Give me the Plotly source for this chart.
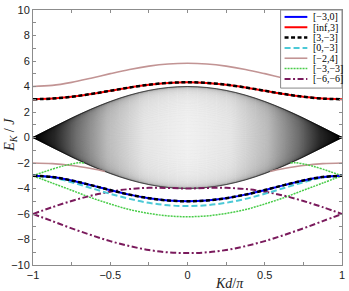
import math
import plotly.graph_objects as go

# ---------------- data ----------------
K = [-1, -0.875, -0.75, -0.625, -0.5, -0.375, -0.25, -0.125, 0,
     0.125, 0.25, 0.375, 0.5, 0.625, 0.75, 0.875, 1]

# two-particle continuum edges
band_upper = [0, 0.780, 1.531, 2.222, 2.828, 3.326, 3.696, 3.923, 4.0,
              3.923, 3.696, 3.326, 2.828, 2.222, 1.531, 0.780, 0]
band_lower = [0, -0.780, -1.531, -2.222, -2.828, -3.326, -3.696, -3.923, -4.0,
              -3.923, -3.696, -3.326, -2.828, -2.222, -1.531, -0.780, 0]

# [-3,0]
e_m3_0 = [-3.0, -3.100, -3.368, -3.733, -4.123, -4.479, -4.760, -4.939, -5.0,
          -4.939, -4.760, -4.479, -4.123, -3.733, -3.368, -3.100, -3.0]
# [inf,3]
e_inf_3 = [3.0, 3.051, 3.195, 3.412, 3.667, 3.922, 4.138, 4.283, 4.333,
           4.283, 4.138, 3.922, 3.667, 3.412, 3.195, 3.051, 3.0]
# [3,-3]  (two branches)
e_3_m3_up = [3.0, 3.051, 3.195, 3.412, 3.667, 3.922, 4.138, 4.283, 4.333,
             4.283, 4.138, 3.922, 3.667, 3.412, 3.195, 3.051, 3.0]
e_3_m3_lo = [-3.0, -3.100, -3.368, -3.733, -4.123, -4.479, -4.760, -4.939, -5.0,
             -4.939, -4.760, -4.479, -4.123, -3.733, -3.368, -3.100, -3.0]
# [0,-3]
e_0_m3 = [-3.0, -3.146, -3.510, -3.964, -4.418, -4.815, -5.122, -5.313, -5.379,
          -5.313, -5.122, -4.815, -4.418, -3.964, -3.510, -3.146, -3.0]
# [-2,4]
e_m2_4_up = [4.0, 4.085, 4.325, 4.653, 5.008, 5.336, 5.596, 5.762, 5.819,
             5.762, 5.596, 5.336, 5.008, 4.653, 4.325, 4.085, 4.0]
K_m2_4_lo = [-1, -0.875, -0.75, -0.625, -0.58, -0.535, None,
             0.535, 0.58, 0.625, 0.75, 0.875, 1]
e_m2_4_lo = [-2.0, -2.051, -2.199, -2.432, -2.536, -2.667, None,
             -2.667, -2.536, -2.432, -2.199, -2.051, -2.0]
# [-3,-3]
e_m3_m3_lo = [-3.0, -3.574, -4.139, -4.716, -5.214, -5.653, -5.954, -6.150, -6.213,
              -6.150, -5.954, -5.653, -5.214, -4.716, -4.139, -3.574, -3.0]
K_m3_m3_up = [-1, -0.875, -0.8, -0.75, -0.7, -0.667, None,
              0.667, 0.7, 0.75, 0.8, 0.875, 1]
e_m3_m3_up = [-3.0, -2.481, -2.217, -2.074, -1.980, -2.0, None,
              -2.0, -1.980, -2.074, -2.217, -2.481, -3.0]
# [-6,-6]
e_m6_m6_up = [-6.0, -5.463, -4.980, -4.567, -4.252, -4.044, -3.949, -3.957, -4.0,
              -3.957, -3.949, -4.044, -4.252, -4.567, -4.980, -5.463, -6.0]
e_m6_m6_lo = [-6.0, -6.559, -7.125, -7.647, -8.128, -8.518, -8.824, -9.008, -9.067,
              -9.008, -8.824, -8.518, -8.128, -7.647, -7.125, -6.559, -6.0]

legend_labels = ["[\u22123,0]", "[inf,3]", "[3,\u22123]", "[0,\u22123]",
                 "[\u22122,4]", "[\u22123,\u22123]", "[\u22126,\u22126]"]

x_tickvals = [-1, -0.5, 0, 0.5, 1]
x_ticktext = ["\u22121", "\u22120.5", "0", "0.5", "1"]
y_tickvals = [-10, -8, -6, -4, -2, 0, 2, 4, 6, 8, 10]
y_ticktext = ["\u221210", "\u22128", "\u22126", "\u22124", "\u22122", "0",
              "2", "4", "6", "8", "10"]

# ---------------- styles ----------------
C_BLUE = "#0000ff"
C_RED = "#ff0000"
C_BLACK = "#000000"
C_CYAN = "#4cc9d6"
C_BROWN = "#c29494"
C_GREEN = "#48cc48"
C_PURPLE = "#7a1a5c"

styles = [
    dict(color=C_BLUE, width=2, dash="solid"),
    dict(color=C_RED, width=2, dash="solid"),
    dict(color=C_BLACK, width=2.5, dash="4px,2.5px"),
    dict(color=C_CYAN, width=2, dash="6px,3px"),
    dict(color=C_BROWN, width=1.6, dash="solid"),
    dict(color=C_GREEN, width=1.5, dash="2px,1px"),
    dict(color=C_PURPLE, width=2, dash="6px,2.5px,2px,2.5px"),
]

fig = go.Figure()

# continuum shading: scaled copies of the band edge
N = 200
for i in range(N):
    f = math.cos(math.pi * (i + 0.5) / N)
    fig.add_trace(go.Scatter(
        x=K, y=[f * u for u in band_upper], mode="lines",
        line=dict(color="rgba(0,0,0,0.05)", width=1, shape="spline"),
        hoverinfo="skip", showlegend=False))

# darkening towards the band tips (horizontal gradient fill between the edges)
fig.add_trace(go.Scatter(x=K, y=band_upper, mode="lines",
                         line=dict(color="rgba(0,0,0,0.55)", width=1, shape="spline"),
                         hoverinfo="skip", showlegend=False))
fig.add_trace(go.Scatter(
    x=K, y=band_lower, mode="lines",
    line=dict(color="rgba(0,0,0,0.55)", width=1, shape="spline"),
    fill="tonexty",
    fillgradient=dict(type="horizontal", colorscale=[
        [0.0, "rgba(0,0,0,0.95)"], [0.07, "rgba(0,0,0,0.8)"],
        [0.14, "rgba(0,0,0,0.5)"], [0.24, "rgba(0,0,0,0.2)"],
        [0.36, "rgba(0,0,0,0.04)"], [0.5, "rgba(0,0,0,0)"],
        [0.64, "rgba(0,0,0,0.04)"], [0.76, "rgba(0,0,0,0.2)"],
        [0.86, "rgba(0,0,0,0.5)"], [0.93, "rgba(0,0,0,0.8)"],
        [1.0, "rgba(0,0,0,0.95)"]]),
    hoverinfo="skip", showlegend=False))


def add_line(x, y, st):
    fig.add_trace(go.Scatter(x=x, y=y, mode="lines",
                             line=dict(color=st["color"], width=st["width"],
                                       dash=st["dash"], shape="spline"),
                             connectgaps=False, showlegend=False))


add_line(K, e_m2_4_up, styles[4])
add_line(K_m2_4_lo, e_m2_4_lo, styles[4])
add_line(K, e_m3_m3_lo, styles[5])
add_line(K_m3_m3_up, e_m3_m3_up, styles[5])
add_line(K, e_m6_m6_up, styles[6])
add_line(K, e_m6_m6_lo, styles[6])
add_line(K, e_0_m3, styles[3])
add_line(K, e_m3_0, styles[0])
add_line(K, e_inf_3, styles[1])
add_line(K, e_3_m3_up, styles[2])
add_line(K, e_3_m3_lo, styles[2])

# ---------------- layout ----------------
L, R, T, B = 33, 4, 7, 26
W, H = 349, 291
PW, PH = W - L - R, H - T - B


def px_x(x):
    return (x - L) / PW


def px_y(y):
    return (H - B - y) / PH


shapes = []
annotations = []
# legend box
shapes.append(dict(type="rect", xref="paper", yref="paper",
                   x0=px_x(283), x1=px_x(345), y0=px_y(86), y1=px_y(7),
                   line=dict(color="#888888", width=1), fillcolor="white", layer="above"))
for i, (lab, st) in enumerate(zip(legend_labels, styles)):
    yc = 14 + 10.45 * i
    shapes.append(dict(type="line", xref="paper", yref="paper",
                       x0=px_x(287), x1=px_x(310), y0=px_y(yc), y1=px_y(yc),
                       line=dict(color=st["color"], width=st["width"], dash=st["dash"]),
                       layer="above"))
    annotations.append(dict(text=lab, xref="paper", yref="paper",
                            x=px_x(314), y=px_y(yc), xanchor="left", yanchor="middle",
                            showarrow=False,
                            font=dict(family="Liberation Serif, Times New Roman, serif",
                                      size=10, color="black")))

annotations.append(dict(text="<i>Kd</i>/<i>\u03c0</i>", xref="paper", yref="paper",
                        x=px_x(231), y=px_y(284), xanchor="center", yanchor="middle",
                        showarrow=False,
                        font=dict(family="Liberation Serif, Times New Roman, serif",
                                  size=14, color="#222222")))
annotations.append(dict(text="<i>E</i><sub><i>K</i></sub> / <i>J</i>", xref="paper", yref="paper",
                        x=px_x(10), y=px_y(133), xanchor="center", yanchor="middle",
                        textangle=-90, showarrow=False,
                        font=dict(family="Liberation Serif, Times New Roman, serif",
                                  size=14, color="#222222")))

tick_color = "#8c8c8c"
axis_common = dict(showgrid=False, zeroline=False, showline=True, linecolor=tick_color,
                   linewidth=1, mirror="ticks", ticks="inside", ticklen=3,
                   tickcolor=tick_color, tickwidth=1,
                   tickfont=dict(family="Liberation Sans, Arial, sans-serif",
                                 size=11, color="#222222"))

fig.update_layout(
    width=W, height=H, autosize=False,
    margin=dict(l=L, r=R, t=T, b=B, pad=0),
    paper_bgcolor="white", plot_bgcolor="white",
    showlegend=False,
    xaxis=dict(range=[-1, 1], tickmode="array", tickvals=x_tickvals, ticktext=x_ticktext,
               minor=dict(dtick=0.25, ticks="inside", ticklen=3, tickcolor=tick_color,
                          showgrid=False),
               **axis_common),
    yaxis=dict(range=[-10, 10], tickmode="array", tickvals=y_tickvals, ticktext=y_ticktext,
               minor=dict(dtick=1, ticks="inside", ticklen=3, tickcolor=tick_color,
                          showgrid=False),
               **axis_common),
    shapes=shapes, annotations=annotations,
)

fig.write_html("out.html",
               config={"displayModeBar": False},
               post_script="document.body.style.margin='0';"
                           "document.body.style.overflow='hidden';")
